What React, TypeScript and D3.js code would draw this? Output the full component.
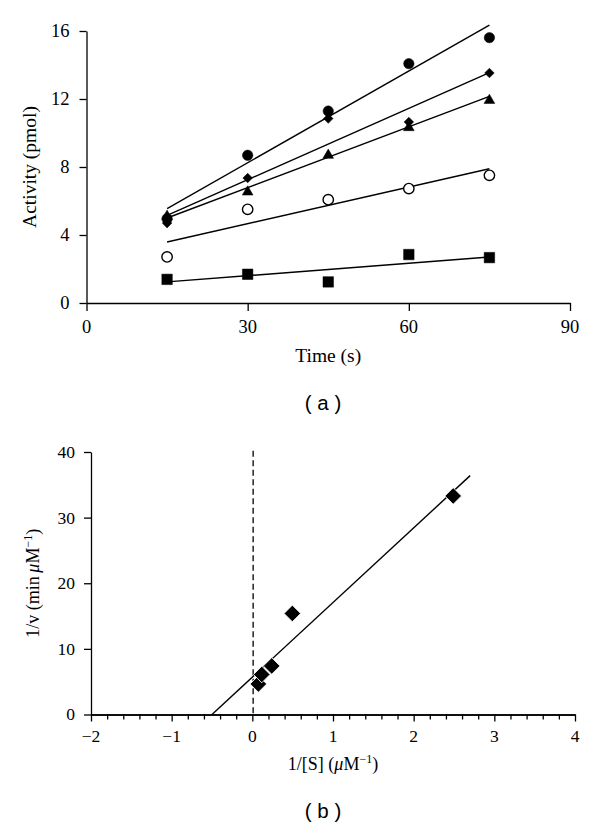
import React, { useEffect, useRef } from 'react';
import * as d3 from 'd3';

// ---------- Panel (a): activity vs time ----------
const timeSeconds = [15, 30, 45, 60, 75];
const filledCircleValues = [4.96, 8.69, 11.29, 14.08, 15.61];
const diamondValues = [4.7, 7.35, 10.85, 10.65, 13.53];
const triangleValues = [5.1, 6.53, 8.69, 10.32, 11.92];
const openCircleValues = [2.71, 5.51, 6.08, 6.73, 7.51];
const squareValues = [1.39, 1.69, 1.24, 2.85, 2.67];

const fitTimeRange = [15, 75];
const filledCircleFit = [5.55, 16.35];
const diamondFit = [5.15, 13.55];
const triangleFit = [5.0, 12.16];
const openCircleFit = [3.59, 7.9];
const squareFit = [1.24, 2.71];

const timeTicks = [0, 30, 60, 90];
const activityTicks = [0, 4, 8, 12, 16];

// ---------- Panel (b): Lineweaver-Burk ----------
const inverseSubstrate = [0.075, 0.117, 0.24, 0.496, 2.49];
const inverseVelocity = [4.65, 6.1, 7.4, 15.4, 33.3];
const lbFitX = [-0.5, 2.7];
const lbFitY = [0, 36.4];
const dashedRefX = 0.01;
const dashedRefTop = 40.2;
const substrateTicks = [-2, -1, 0, 1, 2, 3, 4];
const velocityTicks = [0, 10, 20, 30, 40];

const SERIF = "'Liberation Serif', 'Times New Roman', serif";
const SANS = "'Liberation Sans', Arial, sans-serif";

const fmt = d3.format('d');

export default function App() {
  const ref = useRef<SVGSVGElement | null>(null);

  useEffect(() => {
    const svg = d3.select(ref.current);
    svg.selectAll('*').remove();

    const styleAxis = (g: any) => {
      g.selectAll('path').attr('stroke', '#000').attr('stroke-width', 1.3);
      g.selectAll('line').attr('stroke', '#000').attr('stroke-width', 1.3);
    };

    const tickLabelsLeft = (g: any, scale: any, values: number[], x: number, size: number) => {
      values.forEach(v => {
        g.append('text')
          .attr('x', x).attr('y', scale(v)).attr('dy', '0.34em')
          .attr('text-anchor', 'end')
          .style('font-family', SERIF).style('font-size', `${size}px`)
          .attr('fill', '#000')
          .text(fmt(v));
      });
    };
    const tickLabelsBottom = (g: any, scale: any, values: number[], y: number, size: number) => {
      values.forEach(v => {
        g.append('text')
          .attr('x', scale(v)).attr('y', y)
          .attr('text-anchor', 'middle')
          .style('font-family', SERIF).style('font-size', `${size}px`)
          .attr('fill', '#000')
          .text(fmt(v));
      });
    };

    // ===== Panel (a) =====
    const xa = d3.scaleLinear().domain([0, 90]).range([86.5, 570]);
    const ya = d3.scaleLinear().domain([0, 16]).range([303, 31]);
    const ga = svg.append('g');

    const yAxisA = ga.append('g').attr('transform', `translate(${xa(0)},0)`)
      .call(d3.axisLeft(ya).tickValues(activityTicks).tickSize(7).tickSizeOuter(0).tickFormat(() => ''));
    styleAxis(yAxisA);
    const xAxisA = ga.append('g').attr('transform', `translate(0,${ya(0)})`)
      .call(d3.axisBottom(xa).tickValues(timeTicks).tickSize(8).tickSizeOuter(0).tickFormat(() => ''));
    styleAxis(xAxisA);
    tickLabelsLeft(ga, ya, activityTicks, xa(0) - 17, 18.5);
    tickLabelsBottom(ga, xa, timeTicks, 333, 18.5);

    const fits = [filledCircleFit, diamondFit, triangleFit, openCircleFit, squareFit];
    const line = d3.line<[number, number]>().x(d => xa(d[0])).y(d => ya(d[1]));
    fits.forEach(f => {
      ga.append('path')
        .attr('d', line([[fitTimeRange[0], f[0]], [fitTimeRange[1], f[1]]]))
        .attr('stroke', '#000').attr('stroke-width', 1.4).attr('fill', 'none');
    });

    const drawSeries = (vals: number[], sym: any, size: number, opts: { rotate?: number; open?: boolean } = {}) => {
      const path = d3.symbol().type(sym).size(size)();
      vals.forEach((v, i) => {
        ga.append('path')
          .attr('d', path)
          .attr('transform', `translate(${xa(timeSeconds[i])},${ya(v)})${opts.rotate ? ` rotate(${opts.rotate})` : ''}`)
          .attr('fill', opts.open ? '#fff' : '#000')
          .attr('stroke', '#000')
          .attr('stroke-width', opts.open ? 1.4 : 0.5);
      });
    };
    drawSeries(squareValues, d3.symbolSquare, 110);
    drawSeries(openCircleValues, d3.symbolCircle, 85, { open: true });
    drawSeries(triangleValues, d3.symbolTriangle, 50);
    drawSeries(diamondValues, d3.symbolSquare, 46, { rotate: 45 });
    drawSeries(filledCircleValues, d3.symbolCircle, 85);

    ga.append('text')
      .attr('x', (xa(0) + xa(90)) / 2).attr('y', 362)
      .attr('text-anchor', 'middle').style('font-family', SERIF).style('font-size', '19.5px')
      .text('Time (s)');
    ga.append('text')
      .attr('transform', `translate(36,${(ya(0) + ya(16)) / 2}) rotate(-90)`)
      .attr('text-anchor', 'middle').style('font-family', SERIF).style('font-size', '19.5px')
      .text('Activity (pmol)');
    ga.append('text')
      .attr('x', 323).attr('y', 410)
      .attr('text-anchor', 'middle').style('font-family', SANS).style('font-size', '20.5px')
      .style('white-space', 'pre')
      .text('( a )');

    // ===== Panel (b) =====
    const xb = d3.scaleLinear().domain([-2, 4]).range([91, 575]);
    const yb = d3.scaleLinear().domain([0, 40]).range([714.5, 452]);
    const gb = svg.append('g');

    const yAxisB = gb.append('g').attr('transform', `translate(${xb(-2)},0)`)
      .call(d3.axisLeft(yb).tickValues(velocityTicks).tickSize(7).tickSizeOuter(0).tickFormat(() => ''));
    styleAxis(yAxisB);
    const minorTicks = d3.range(-2, 4.0001, 0.2).filter(v => Math.abs(v - Math.round(v)) > 1e-6);
    const xMinorB = gb.append('g').attr('transform', `translate(0,${yb(0)})`)
      .call(d3.axisBottom(xb).tickValues(minorTicks).tickSize(5).tickSizeOuter(0).tickFormat(() => ''));
    styleAxis(xMinorB);
    const xAxisB = gb.append('g').attr('transform', `translate(0,${yb(0)})`)
      .call(d3.axisBottom(xb).tickValues(substrateTicks).tickSize(7).tickSizeOuter(0).tickFormat(() => ''));
    styleAxis(xAxisB);
    tickLabelsLeft(gb, yb, velocityTicks, xb(-2) - 16, 17.5);
    tickLabelsBottom(gb, xb, substrateTicks, 742, 17.5);

    gb.append('line')
      .attr('x1', xb(dashedRefX)).attr('x2', xb(dashedRefX))
      .attr('y1', yb(dashedRefTop)).attr('y2', yb(0))
      .attr('stroke', '#000').attr('stroke-width', 1.3).attr('stroke-dasharray', '6,3.5');

    const lineB = d3.line<[number, number]>().x(d => xb(d[0])).y(d => yb(d[1]));
    gb.append('path')
      .attr('d', lineB([[lbFitX[0], lbFitY[0]], [lbFitX[1], lbFitY[1]]]))
      .attr('stroke', '#000').attr('stroke-width', 1.4).attr('fill', 'none');

    const diamondB = d3.symbol().type(d3.symbolSquare).size(138)();
    inverseSubstrate.forEach((s, i) => {
      gb.append('path')
        .attr('d', diamondB)
        .attr('transform', `translate(${xb(s)},${yb(inverseVelocity[i])}) rotate(45)`)
        .attr('fill', '#000').attr('stroke', '#fff').attr('stroke-width', 0.8);
    });

    const xlab = gb.append('text')
      .attr('x', (xb(-2) + xb(4)) / 2).attr('y', 770)
      .attr('text-anchor', 'middle').style('font-family', SERIF).style('font-size', '18px');
    xlab.append('tspan').text('1/[S] (');
    xlab.append('tspan').style('font-style', 'italic').text('\u03bc');
    xlab.append('tspan').text('M');
    xlab.append('tspan').style('font-size', '12px').attr('dy', -7).text('\u22121');
    xlab.append('tspan').attr('dy', 7).text(')');

    const ylab = gb.append('text')
      .attr('transform', `translate(38.5,${(yb(0) + yb(40)) / 2}) rotate(-90)`)
      .attr('text-anchor', 'middle').style('font-family', SERIF).style('font-size', '18px');
    ylab.append('tspan').text('1/v (min\u2009');
    ylab.append('tspan').style('font-style', 'italic').text('\u03bc');
    ylab.append('tspan').text('M');
    ylab.append('tspan').style('font-size', '12px').attr('dy', -7).text('\u22121');
    ylab.append('tspan').attr('dy', 7).text(')');

    gb.append('text')
      .attr('x', 323).attr('y', 818)
      .attr('text-anchor', 'middle').style('font-family', SANS).style('font-size', '20.5px')
      .style('white-space', 'pre')
      .text('( b )');
  }, []);

  return (
    <svg
      ref={ref}
      width={600}
      height={827}
      style={{ position: 'absolute', left: 0, top: 0, background: '#fff' }}
    />
  );
}
